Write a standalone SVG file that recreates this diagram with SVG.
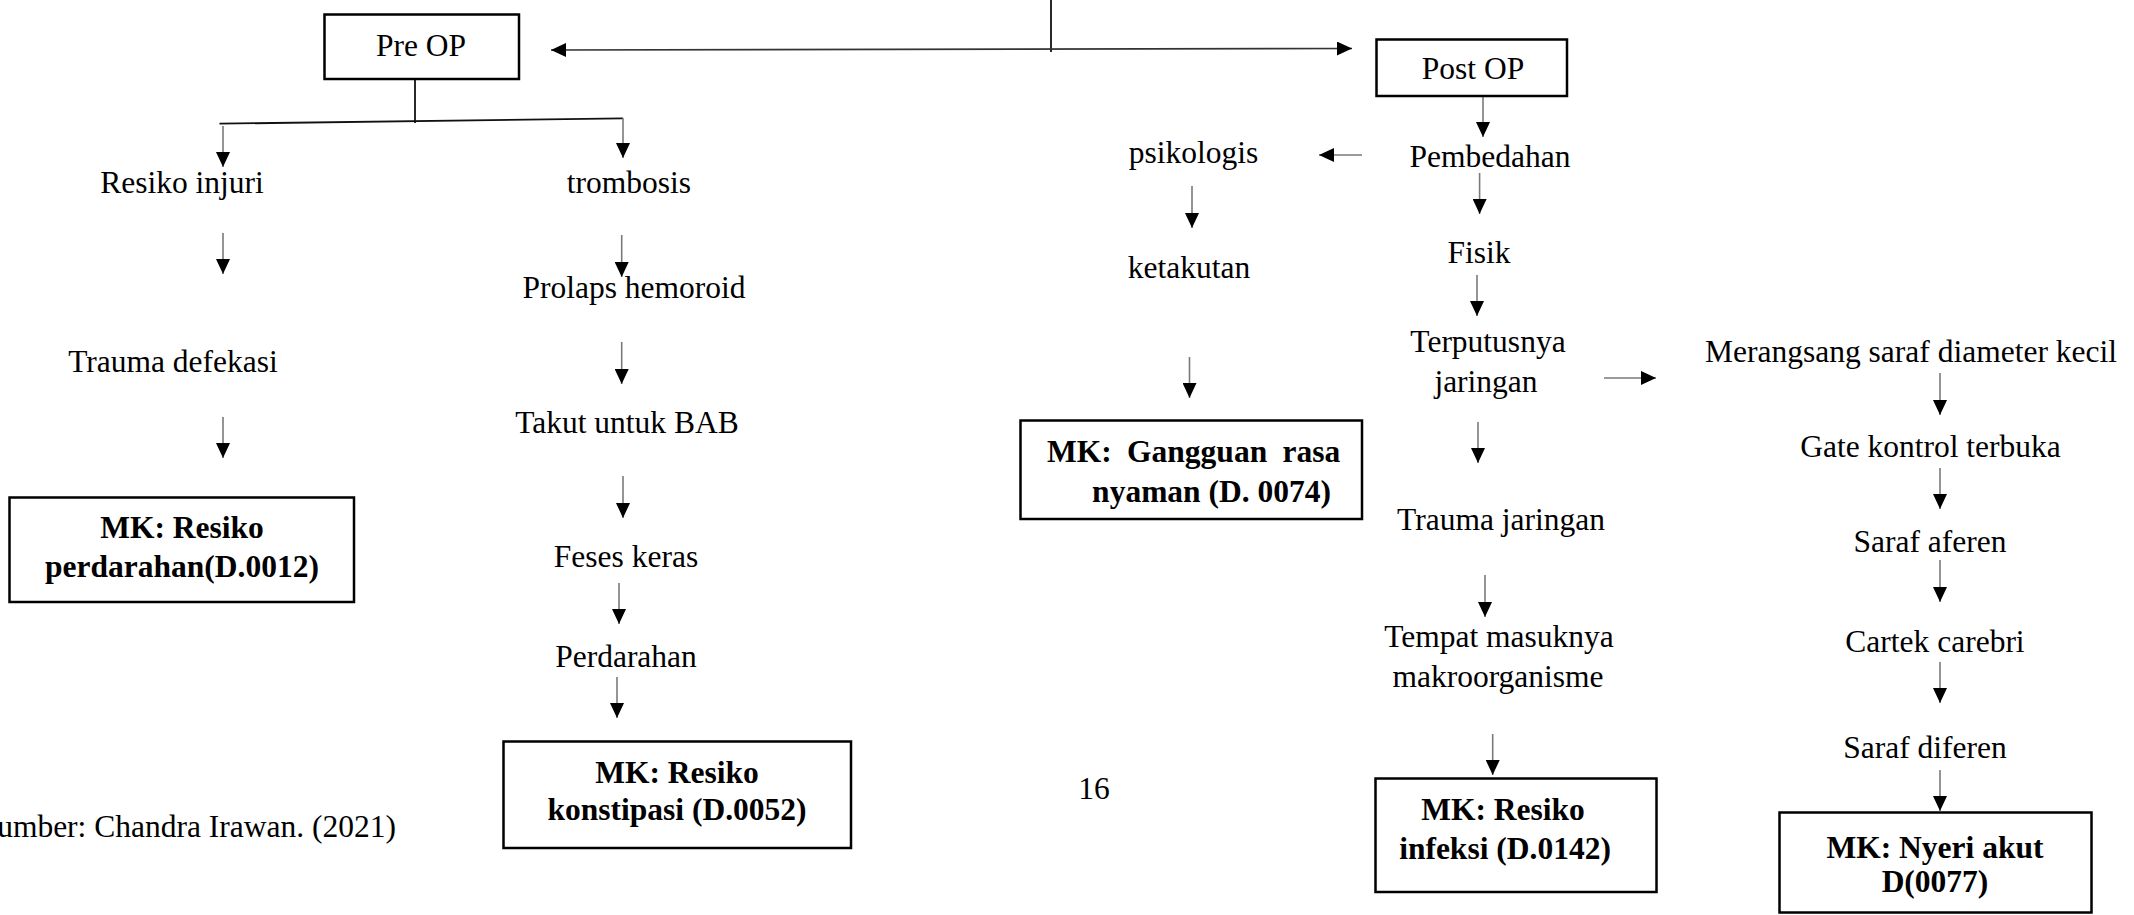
<svg xmlns="http://www.w3.org/2000/svg" width="2134" height="915" viewBox="0 0 2134 915">
<defs>
<marker id="ah" viewBox="0 0 15 14" refX="15" refY="7" markerWidth="15" markerHeight="14" markerUnits="userSpaceOnUse" orient="auto-start-reverse">
<path d="M0,0 L15,7 L0,14 Z" fill="#000"/>
</marker>
<style>
text{font-family:"Liberation Serif","Times New Roman",serif;font-size:31.5px;fill:#000;text-anchor:middle}
.b{font-weight:bold}
.box{fill:#fff;stroke:#000;stroke-width:2.5}
.ln{stroke:#111;stroke-width:1.8;fill:none}
.ar{stroke:#7a7a7a;stroke-width:1.6;fill:none;marker-end:url(#ah)}
.ar2{stroke:#333;stroke-width:1.6;fill:none;marker-end:url(#ah);marker-start:url(#ah)}
</style>
</defs>
<rect width="2134" height="915" fill="#fff"/>
<g id="connectors">
<line class="ln" x1="1051" y1="0" x2="1051" y2="52"/>
<line class="ar2" x1="551" y1="50" x2="1352" y2="48.5"/>
<line class="ln" x1="415" y1="79" x2="415" y2="123"/>
<line class="ln" x1="219.5" y1="123.7" x2="623" y2="118.3"/>
<line class="ar" x1="223" y1="126" x2="223" y2="167"/>
<line class="ar" x1="623" y1="118" x2="623" y2="158"/>
<line class="ar" x1="223" y1="233" x2="223" y2="274"/>
<line class="ar" x1="621.7" y1="235" x2="621.7" y2="277"/>
<line class="ar" x1="621.7" y1="342" x2="621.7" y2="384"/>
<line class="ar" x1="223" y1="417" x2="223" y2="458"/>
<line class="ar" x1="623" y1="476" x2="623" y2="518"/>
<line class="ar" x1="619" y1="583" x2="619" y2="624"/>
<line class="ar" x1="617" y1="677" x2="617" y2="718"/>
<line class="ar" x1="1362" y1="155" x2="1319" y2="155"/>
<line class="ar" x1="1192" y1="186" x2="1192" y2="228"/>
<line class="ar" x1="1189.5" y1="357" x2="1189.5" y2="398"/>
<line class="ar" x1="1483" y1="96" x2="1483" y2="137"/>
<line class="ar" x1="1479.6" y1="173" x2="1479.6" y2="214"/>
<line class="ar" x1="1477" y1="275" x2="1477" y2="316"/>
<line class="ar" x1="1604" y1="378" x2="1656" y2="378"/>
<line class="ar" x1="1478" y1="422" x2="1478" y2="463"/>
<line class="ar" x1="1485" y1="575" x2="1485" y2="617"/>
<line class="ar" x1="1492.7" y1="734" x2="1492.7" y2="775"/>
<line class="ar" x1="1940" y1="373" x2="1940" y2="415"/>
<line class="ar" x1="1940" y1="468" x2="1940" y2="509"/>
<line class="ar" x1="1940" y1="560" x2="1940" y2="602"/>
<line class="ar" x1="1940" y1="662" x2="1940" y2="703"/>
<line class="ar" x1="1940" y1="770" x2="1940" y2="811"/>
</g>
<g id="preop"><rect class="box" x="324.5" y="14.5" width="194.5" height="64.5"/><text x="421" y="56">Pre OP</text></g>
<g id="resiko-injuri"><text x="182" y="193">Resiko injuri</text></g>
<g id="trombosis"><text x="629" y="193">trombosis</text></g>
<g id="trauma-defekasi"><text x="173" y="372">Trauma defekasi</text></g>
<g id="prolaps"><text x="634" y="298">Prolaps hemoroid</text></g>
<g id="takut"><text x="627" y="433">Takut untuk BAB</text></g>
<g id="feses"><text x="626" y="567">Feses keras</text></g>
<g id="perdarahan"><text x="626" y="667">Perdarahan</text></g>
<g id="mk-perdarahan"><rect class="box" x="9.5" y="497.5" width="344.5" height="104.5"/><text class="b" x="182" y="538">MK: Resiko</text><text class="b" x="182" y="577">perdarahan(D.0012)</text></g>
<g id="mk-konstipasi"><rect class="box" x="503.5" y="741.5" width="347.5" height="106.5"/><text class="b" x="677" y="783">MK: Resiko</text><text class="b" x="677" y="820">konstipasi (D.0052)</text></g>
<g id="sumber"><text x="396" y="837" style="text-anchor:end">umber: Chandra Irawan. (2021)</text></g>
<g id="page"><text x="1094" y="799">16</text></g>
<g id="postop"><rect class="box" x="1376.5" y="39.5" width="190.5" height="56.5"/><text x="1473" y="79">Post OP</text></g>
<g id="psikologis"><text x="1193.5" y="163">psikologis</text></g>
<g id="ketakutan"><text x="1189" y="278">ketakutan</text></g>
<g id="mk-gangguan"><rect class="box" x="1020.5" y="420.5" width="341.5" height="98.5"/><text class="b" x="1047" y="462" style="text-anchor:start;word-spacing:7.5px">MK: Gangguan rasa</text><text class="b" x="1331" y="502" style="text-anchor:end">nyaman (D. 0074)</text></g>
<g id="pembedahan"><text x="1490" y="167">Pembedahan</text></g>
<g id="fisik"><text x="1479" y="263">Fisik</text></g>
<g id="terputusnya"><text x="1488" y="352">Terputusnya</text><text x="1486" y="392">jaringan</text></g>
<g id="trauma-jaringan"><text x="1501" y="530">Trauma jaringan</text></g>
<g id="tempat"><text x="1499" y="647">Tempat masuknya</text><text x="1498" y="687">makroorganisme</text></g>
<g id="mk-infeksi"><rect class="box" x="1375.5" y="778.5" width="281" height="113.5"/><text class="b" x="1503" y="820">MK: Resiko</text><text class="b" x="1505" y="859">infeksi (D.0142)</text></g>
<g id="merangsang"><text x="1911" y="362">Merangsang saraf diameter kecil</text></g>
<g id="gate"><text x="1930.5" y="457">Gate kontrol terbuka</text></g>
<g id="aferen"><text x="1930" y="552">Saraf aferen</text></g>
<g id="cartek"><text x="1935" y="652">Cartek carebri</text></g>
<g id="diferen"><text x="1925" y="758">Saraf diferen</text></g>
<g id="mk-nyeri"><rect class="box" x="1779.5" y="812.5" width="312" height="100"/><text class="b" x="1935" y="858">MK: Nyeri akut</text><text class="b" x="1935" y="892">D(0077)</text></g>
</svg>
